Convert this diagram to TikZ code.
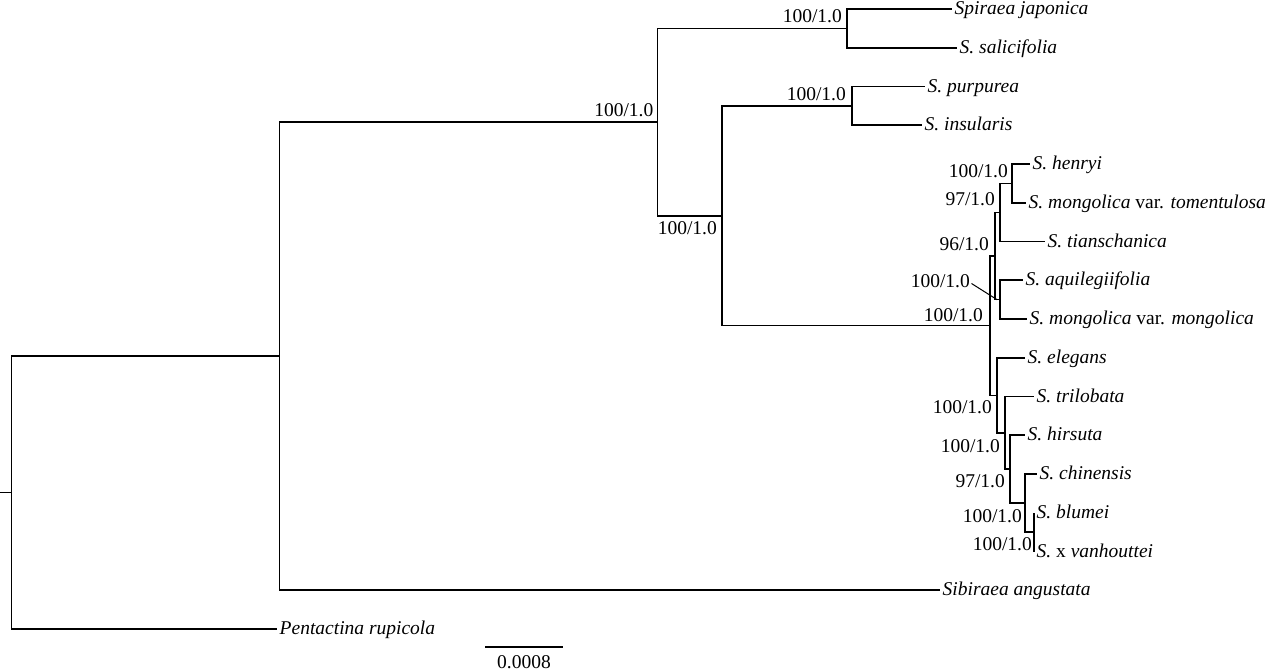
\documentclass[tikz,border=0pt]{standalone}
\usepackage{fontspec}
\setmainfont{Liberation Serif}
\usetikzlibrary{positioning}

\tikzset{
  branch/.style={line width=1.6pt},
  tip/.style={anchor=west, inner xsep=2.5pt, inner ysep=0pt, text height=11pt, text depth=0pt, font=\itshape},
  supp/.style={anchor=base east, inner sep=0pt},
}

\begin{document}
\fontsize{19.5}{23}\selectfont
\begin{tikzpicture}[x=1pt,y=-1pt]
\useasboundingbox (0,0) rectangle (1267,672);

% internal nodes
\coordinate (stem) at (0,492.6);
\coordinate (root) at (11.5,492.6);
\coordinate (A) at (279.5,356.2);
\coordinate (B) at (657.5,122.1);
\coordinate (C) at (847,28.4);
\coordinate (D) at (722,215.8);
\coordinate (E) at (852,105.9);
\coordinate (F) at (990,325.6);
\coordinate (I) at (995,256);
\coordinate (H) at (1000,212.4);
\coordinate (G) at (1012,183.4);
\coordinate (J) at (1000,299.6);
\coordinate (K) at (997,395.3);
\coordinate (L) at (1005,432.8);
\coordinate (M) at (1010,469.1);
\coordinate (N) at (1025,503);
\coordinate (O) at (1034,532.1);

% tips
\node [tip] (japonica) at (952,9) {Spiraea japonica};
\node [tip] (salicifolia) at (957,47.75) {S. salicifolia};
\node [tip] (purpurea) at (925,86.5) {S. purpurea};
\node [tip] (insularis) at (922,125.25) {S. insularis};
\node [tip] (henryi) at (1030,164) {S. henryi};
\node [tip] (tomentulosa) at (1026,202.75) {S. mongolica \upshape var. \itshape tomentulosa};
\node [tip] (tianschanica) at (1045,241.5) {S. tianschanica};
\node [tip] (aquilegiifolia) at (1023,280.25) {S. aquilegiifolia};
\node [tip] (mongolica) at (1027,319) {S. mongolica \upshape var. \itshape mongolica};
\node [tip] (elegans) at (1025,357.75) {S. elegans};
\node [tip] (trilobata) at (1034,396.5) {S. trilobata};
\node [tip] (hirsuta) at (1025,435.25) {S. hirsuta};
\node [tip] (chinensis) at (1037,474) {S. chinensis};
\node [tip] (blumei) at (1034,512.75) {S. blumei};
\node [tip] (vanhouttei) at (1034,551.5) {S. \upshape x \itshape vanhouttei};
\node [tip] (sibiraea) at (940,590.25) {Sibiraea angustata};
\node [tip] (pentactina) at (277,629) {Pentactina rupicola};

% branches
\draw [branch] (stem) -- (root);
\draw [branch] (root) |- (A);
\draw [branch] (root) |- (pentactina);
\draw [branch] (A) |- (B);
\draw [branch] (A) |- (sibiraea);
\draw [branch] (B) |- (C);
\draw [branch] (B) |- (D);
\draw [branch] (C) |- (japonica);
\draw [branch] (C) |- (salicifolia);
\draw [branch] (D) |- (E);
\draw [branch] (D) |- (F);
\draw [branch] (E) |- (purpurea);
\draw [branch] (E) |- (insularis);
\draw [branch] (F) |- (I);
\draw [branch] (F) |- (K);
\draw [branch] (I) |- (H);
\draw [branch] (I) |- (J);
\draw [branch] (H) |- (G);
\draw [branch] (H) |- (tianschanica);
\draw [branch] (G) |- (henryi);
\draw [branch] (G) |- (tomentulosa);
\draw [branch] (J) |- (aquilegiifolia);
\draw [branch] (J) |- (mongolica);
\draw [branch] (K) |- (elegans);
\draw [branch] (K) |- (L);
\draw [branch] (L) |- (trilobata);
\draw [branch] (L) |- (M);
\draw [branch] (M) |- (hirsuta);
\draw [branch] (M) |- (N);
\draw [branch] (N) |- (chinensis);
\draw [branch] (N) |- (O);
\draw [branch] (O) |- (blumei);
\draw [branch] (O) |- (vanhouttei);

% support values
\node [supp] (sB) at ([xshift=-4pt,yshift=5.5pt]B) {100/1.0};
\node [supp] (sC) at ([xshift=-5pt,yshift=5.5pt]C) {100/1.0};
\node [supp] (sD) at ([xshift=-5pt,yshift=-19pt]D) {100/1.0};
\node [supp] (sE) at ([xshift=-6pt,yshift=5.5pt]E) {100/1.0};
\node [supp] (sG) at ([xshift=-4pt,yshift=5.5pt]G) {100/1.0};
\node [supp] (sH) at ([xshift=-5pt,yshift=6.5pt]H) {97/1.0};
\node [supp] (sI) at ([xshift=-6pt,yshift=6pt]I) {96/1.0};
\node [supp] (sJ) at ([xshift=-30pt,yshift=12.6pt]J) {100/1.0};
\draw [line width=1pt] ([shift={(1.5pt,3.5pt)}]sJ.base east) -- ([xshift=-3pt]J);
\node [supp] (sF) at ([xshift=-7pt,yshift=4pt]F) {100/1.0};
\node [supp] (sK) at ([xshift=-5pt,yshift=-18.5pt]K) {100/1.0};
\node [supp] (sL) at ([xshift=-5pt,yshift=-19.5pt]L) {100/1.0};
\node [supp] (sM) at ([xshift=-5pt,yshift=-18.5pt]M) {97/1.0};
\node [supp] (sN) at ([xshift=-3pt,yshift=-19.5pt]N) {100/1.0};
\node [supp] (sO) at ([xshift=-2pt,yshift=-18.5pt]O) {100/1.0};

% scale bar
\coordinate (bar0) at (485,647);
\coordinate (bar1) at (563,647);
\draw [branch] (bar0) -- (bar1) node [midway, below=7.5pt, inner sep=0pt] (barlabel) {0.0008};

\end{tikzpicture}
\end{document}
